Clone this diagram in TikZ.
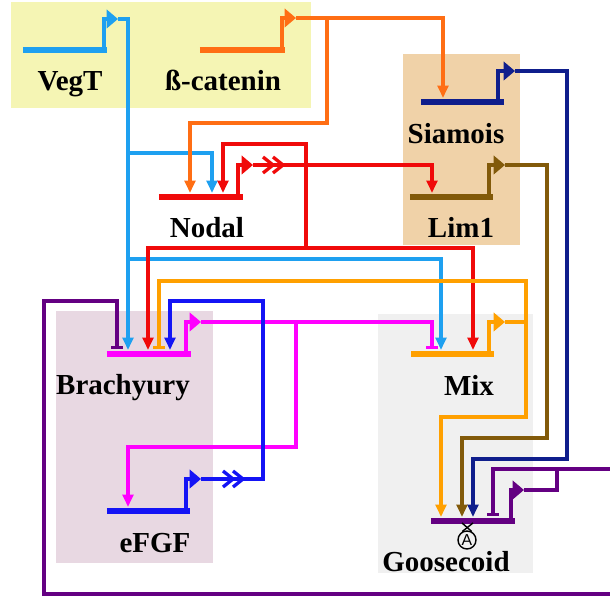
\documentclass[tikz,border=0pt]{standalone}
\usepackage{fontspec}
\setmainfont{Liberation Serif}
\newfontfamily\andfont{Liberation Sans}
\usetikzlibrary{arrows.meta}

\definecolor{vegtc}{RGB}{30,160,240}
\definecolor{bcatc}{RGB}{255,110,20}
\definecolor{nodalc}{RGB}{240,10,10}
\definecolor{siac}{RGB}{15,30,140}
\definecolor{limc}{RGB}{130,90,10}
\definecolor{brac}{RGB}{255,0,255}
\definecolor{efgfc}{RGB}{20,20,245}
\definecolor{mixc}{RGB}{255,160,0}
\definecolor{gscc}{RGB}{100,0,130}
\definecolor{ybox}{RGB}{245,245,180}
\definecolor{tbox}{RGB}{240,210,168}
\definecolor{pbox}{RGB}{232,216,226}
\definecolor{gbox}{RGB}{240,240,240}

\begin{document}
\begin{tikzpicture}[x=0.02cm, y=-0.02cm,
	gene/.style={line width=3.4pt},
	prom/.style={line width=2.8pt, -{Triangle[length=6.5pt,width=10.5pt]}},
	wire/.style={line width=1.9pt},
	link/.style={line width=1.9pt, -{Triangle[length=7pt,width=6pt]}},
	block/.style={line width=1.9pt, -{Bar[width=6.5pt]}},
	gname/.style={font=\bfseries\fontsize{16.5}{18}\selectfont, anchor=base, inner sep=0pt}]
	\path[use as bounding box, clip] (0,0) rectangle (610,597);

	% regions
	\fill[ybox] (11,2) rectangle (311,108);
	\fill[tbox] (403,54) rectangle (520,245);
	\fill[pbox] (56,311) rectangle (213,563);
	\fill[gbox] (378,314) rectangle (533,573);

	% promoter outputs
	\coordinate (vegt-p) at (118,19);
	\coordinate (bcat-p) at (296,18);
	\coordinate (nodal-p) at (253,165);
	\coordinate (sia-p) at (515,71);
	\coordinate (lim-p) at (505,165);
	\coordinate (bra-p) at (201,322);
	\coordinate (efgf-p) at (201,479);
	\coordinate (mix-p) at (505,322);
	\coordinate (gsc-p) at (524,490);
	% inputs
	\coordinate (nodal-in1) at (190,193);
	\coordinate (nodal-in2) at (212,193);
	\coordinate (nodal-in3) at (223,193);
	\coordinate (sia-in) at (443,98);
	\coordinate (lim-in) at (432,193);
	\coordinate (bra-in1) at (117,349);
	\coordinate (bra-in2) at (128,350);
	\coordinate (bra-in3) at (148,350);
	\coordinate (bra-in4) at (159,349);
	\coordinate (bra-in5) at (170,350);
	\coordinate (mix-in1) at (432,349);
	\coordinate (mix-in2) at (441,350);
	\coordinate (mix-in3) at (473,350);
	\coordinate (efgf-in) at (128,507);
	\coordinate (gsc-in1) at (441,517);
	\coordinate (gsc-in2) at (462,517);
	\coordinate (gsc-in3) at (473,517);
	\coordinate (gsc-in4) at (493,516);

	% VegT
	\draw[link, vegtc] (vegt-p) -| (bra-in2);
	\draw[link, vegtc] (128,153) -| (nodal-in2);
	\draw[link, vegtc] (128,259) -| (mix-in2);
	% beta-catenin
	\draw[link, bcatc] (bcat-p) -| (sia-in);
	\draw[link, bcatc] (327,18) -- (327,123) -| (nodal-in1);
	% Nodal
	\draw[link, nodalc] (nodal-p) -| (lim-in);
	\draw[link, nodalc] (306,248) -- (306,144) -| (nodal-in3);
	\draw[link, nodalc] (306,248) -| (bra-in3);
	\draw[link, nodalc] (306,248) -| (mix-in3);
	\draw[wire, nodalc] (263,157) -- (273,165) -- (263,173) (273,157) -- (283,165) -- (273,173);
	% Siamois
	\draw[link, siac] (sia-p) -| (567,459) -| (gsc-in3);
	% Lim1
	\draw[link, limc] (lim-p) -| (547,438) -| (gsc-in2);
	% Brachyury
	\draw[block, brac] (bra-p) -| (mix-in1);
	\draw[link, brac] (296,322) -- (296,447) -| (efgf-in);
	% eFGF
	\draw[link, efgfc] (efgf-p) -| (263,301) -| (bra-in5);
	\draw[wire, efgfc] (223,471) -- (233,479) -- (223,487) (233,471) -- (243,479) -- (233,487);
	% Mix
	\draw[link, mixc] (mix-p) -| (526,417) -| (gsc-in1);
	\draw[block, mixc] (526,322) |- (159,281) -- (bra-in4);
	% Goosecoid
	\draw[wire, gscc] (gsc-p) -| (557,469);
	\draw[block, gscc] (557,469) -| (gsc-in4);
	\draw[block, gscc] (557,469) -- (613,469) -- (613,594) -| (44,301) -| (bra-in1);

	% genes
	\draw[gene, vegtc] (23,50) -- (107,50);
	\draw[prom, vegtc] (104,50) |- (vegt-p);
	\draw[gene, bcatc] (200,50) -- (285,50);
	\draw[prom, bcatc] (282,50) |- (bcat-p);
	\draw[gene, nodalc] (159,197) -- (243,197);
	\draw[prom, nodalc] (238,197) |- (nodal-p);
	\draw[gene, siac] (421,102) -- (504,102);
	\draw[prom, siac] (498,102) |- (sia-p);
	\draw[gene, limc] (410,197) -- (493,197);
	\draw[prom, limc] (489,197) |- (lim-p);
	\draw[gene, brac] (107,354) -- (191,354);
	\draw[prom, brac] (186,354) |- (bra-p);
	\draw[gene, efgfc] (107,511) -- (190,511);
	\draw[prom, efgfc] (186,511) |- (efgf-p);
	\draw[gene, mixc] (411,354) -- (494,354);
	\draw[prom, mixc] (489,354) |- (mix-p);
	\draw[gene, gscc] (431,521) -- (515,521);
	\draw[prom, gscc] (511,521) |- (gsc-p);

	% names
	\node[gname] (vegt) at (70,91) {VegT};
	\node[gname] (bcat) at (223,91) {ß-catenin};
	\node[gname] (nodal) at (207,238) {Nodal};
	\node[gname] (siamois) at (456,144) {Siamois};
	\node[gname] (lim1) at (461,238) {Lim1};
	\node[gname] (brachy) at (123,395) {Brachyury};
	\node[gname] (mix) at (469,396) {Mix};
	\node[gname] (efgf) at (155,553) {eFGF};
	\node[gname] (gsc) at (446,572) {Goosecoid};

	% and-gate
	\node[circle, draw, line width=0.8pt, inner sep=0pt, minimum size=0.36cm, font=\andfont\fontsize{9}{9}\selectfont] (and) at (467,540) {A};
	\draw[line width=0.8pt] (462,523) -- (and.60);
	\draw[line width=0.8pt] (473,523) -- (and.120);
\end{tikzpicture}
\end{document}
